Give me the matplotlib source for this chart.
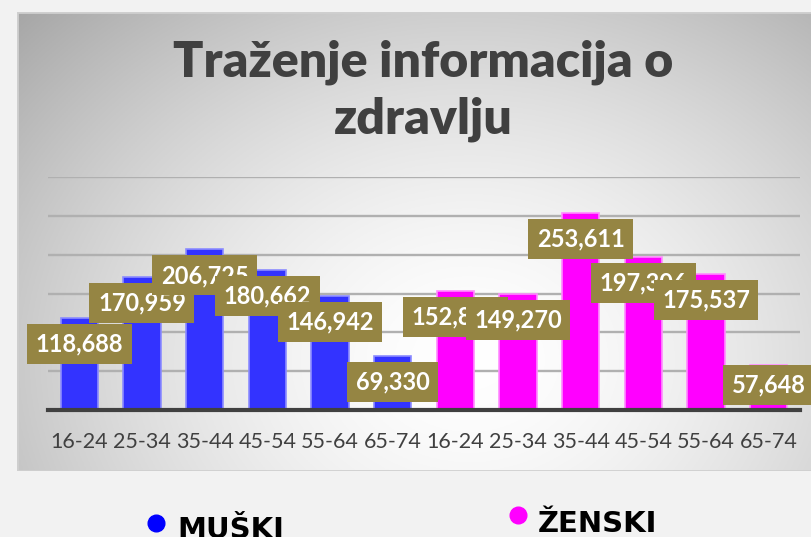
import numpy as np
import matplotlib.pyplot as plt
from matplotlib.lines import Line2D
from matplotlib.patches import Rectangle

# Podaci
age_groups = ['16-24', '25-34', '35-44', '45-54', '55-64', '65-74']
male = [118688, 170959, 206725, 180662, 146942, 69330]
female = [152819, 149270, 253611, 197306, 175537, 57648]
series_names = ['MUŠKI', 'ŽENSKI']

W, H = 812, 537
fig = plt.figure(figsize=(W / 100, H / 100), dpi=100)
fig.patch.set_facecolor('#f2f2f2')

# Pozadinski panel s radijalnim gradijentom
px0, py0, px1, py1 = 17, 12, 830, 471
bg = fig.add_axes([px0 / W, 1 - py1 / H, (px1 - px0) / W, (py1 - py0) / H])
gx, gy = np.meshgrid(np.linspace(px0, px1, 400), np.linspace(py0, py1, 250))
r = np.sqrt(((gx - 470) / 520) ** 2 + ((gy - 360) / 420) ** 2)
shade = 1 - 0.26 * np.clip(r, 0, 1.3) ** 1.6
bg.imshow(np.dstack([shade] * 3), extent=[0, 1, 0, 1], aspect='auto', origin='upper')
bg.add_patch(Rectangle((0, 0), 1, 1, transform=bg.transAxes, fill=False,
                       edgecolor='#cfcfcf', lw=2))
bg.set_axis_off()

# Glavni graf
ax = fig.add_axes([48 / W, 1 - 410 / H, 752 / W, 233 / H])
ax.patch.set_alpha(0)
cats = age_groups + age_groups
vals = male + female
colors = ['#3333ff'] * len(male) + ['#ff00ff'] * len(female)
edges = ['#8c8cff'] * len(male) + ['#ff8cff'] * len(female)
x = np.arange(len(cats))
ax.bar(x, vals, width=0.6, color=colors, edgecolor=edges, linewidth=1.2, zorder=3)

ax.set_xlim(-0.5, len(cats) - 0.5)
ax.set_ylim(0, 300000)
ax.set_yticks(np.arange(0, 300001, 50000))
ax.yaxis.grid(True, color='#b0b0b0', lw=1.7, zorder=0)
ax.tick_params(axis='y', left=False, labelleft=False)
ax.set_xticks(x)
ax.set_xticklabels(cats, fontsize=15.5, color='#404040', family='Lato')
ax.tick_params(axis='x', length=0, pad=16)
for s in ['top', 'right', 'left']:
    ax.spines[s].set_visible(False)
ax.spines['bottom'].set_color('#404040')
ax.spines['bottom'].set_linewidth(3)
ax.spines['bottom'].set_zorder(4)

# Oznake vrijednosti
for i, v in enumerate(vals):
    ly = max(v - 33500, 32200)
    ax.text(x[i], ly, f'{v:,}', ha='center', va='center', fontsize=17,
            fontweight='bold', color='white', family='Lato', zorder=10 + i,
            bbox=dict(boxstyle='square,pad=0.36', fc='#958543', ec='none'))

# Naslov
for txt, ty in [('Traženje informacija o', 62), ('zdravlju', 119)]:
    fig.text(423 / W, 1 - ty / H, txt, ha='center', va='center',
             fontsize=36, fontweight='heavy', color='#404040', family='Lato')

# Legenda
leg = [(156, 523, 177, 538, '#0000ff'), (518, 515, 538, 532, '#ff00ff')]
for (cx, cy, tx, ty, c), name in zip(leg, series_names):
    fig.add_artist(Line2D([cx / W], [1 - cy / H], marker='o', markersize=12,
                          color=c, transform=fig.transFigure))
    fig.text(tx / W, 1 - ty / H, name, ha='left', va='baseline', fontsize=21,
             fontweight='bold', color='black', family='DejaVu Sans')

fig.savefig('out.png', dpi=100, facecolor=fig.get_facecolor())
